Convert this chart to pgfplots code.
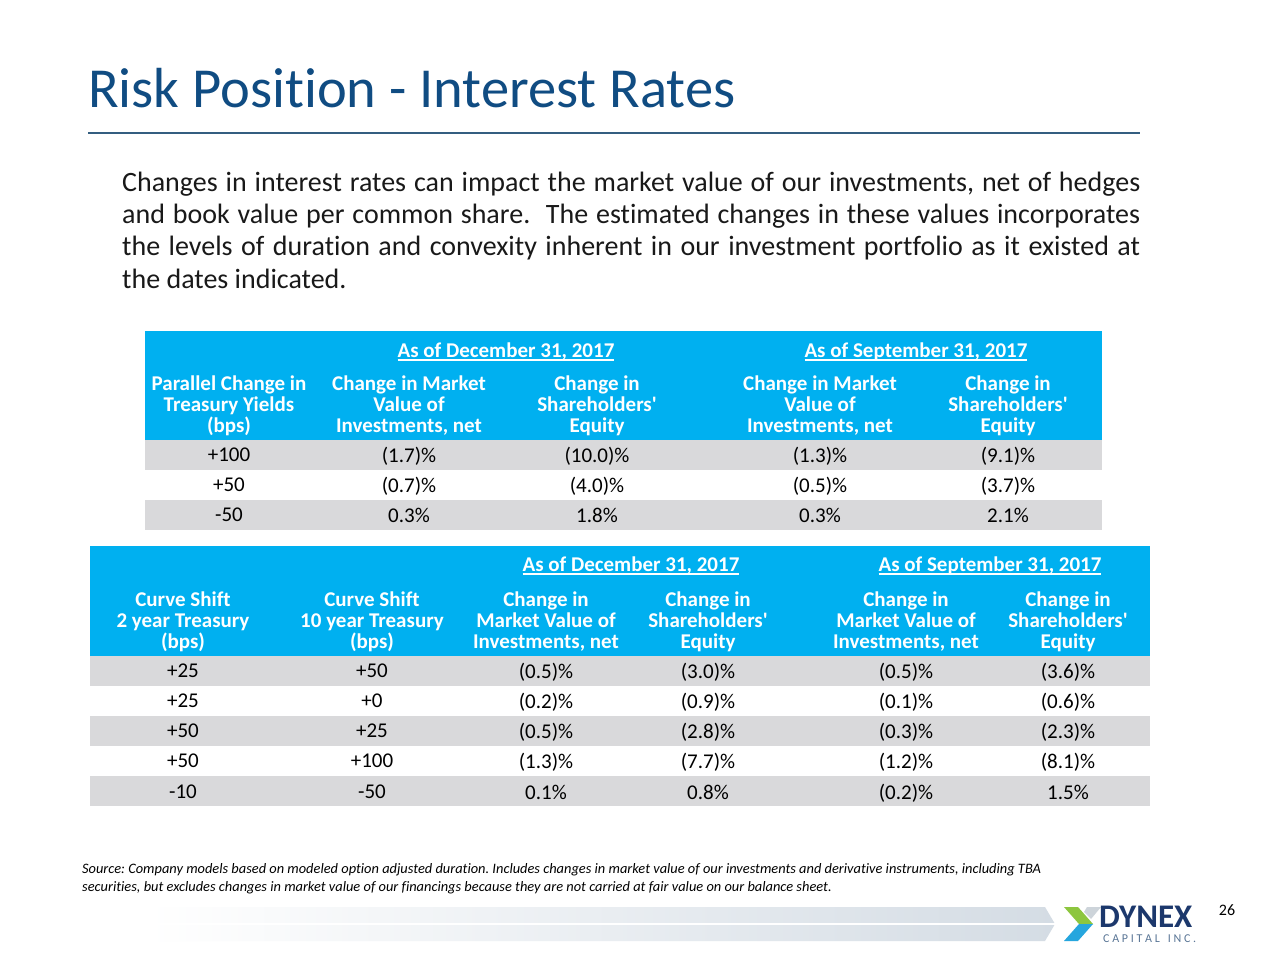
\documentclass[border=0pt]{standalone}
\usepackage{pgfplots}
\pgfplotsset{compat=1.18}
\usepackage{fontspec}
\setmainfont[Ligatures={TeX,NoCommon}]{Carlito}
\definecolor{titleblue}{RGB}{16,76,130}
\definecolor{rulecol}{RGB}{52,94,128}
\definecolor{hdr}{RGB}{0,176,240}
\definecolor{rowgrey}{RGB}{217,217,219}
\definecolor{bodytext}{RGB}{25,25,25}
\definecolor{barcol}{RGB}{212,220,228}
\definecolor{logonavy}{RGB}{28,56,108}
\definecolor{logogrey}{RGB}{90,118,150}
\definecolor{logogreen}{RGB}{141,198,63}
\definecolor{logoblue}{RGB}{38,166,222}
\definecolor{logolight}{RGB}{205,212,218}
\newcommand\ul[1]{\setbox0\hbox{#1}\rlap{\rule[-3.5pt]{\wd0}{1.6pt}}\box0}
\newcommand\tabfont{\fontsize{21}{21}\selectfont}
\newcommand\hdrfont{\fontsize{21}{21}\selectfont\bfseries}
\newcommand\rect[5]{\addplot[fill=#5,draw=none,forget plot] coordinates {(#1,#2)(#3,#2)(#3,#4)(#1,#4)} -- cycle;}
\newcommand\cell[3]{\node[anchor=base,inner sep=0,font=\tabfont,text=black] at (axis cs:#1,#2) {#3};}
\newcommand\hcell[3]{\node[anchor=base,inner sep=0,font=\hdrfont,text=white] at (axis cs:#1,#2) {#3};}
\newcommand\sq{\textquotesingle}
\begin{document}
\frenchspacing
\begin{tikzpicture}
\begin{axis}[width=1280pt,height=960pt,scale only axis,xmin=0,xmax=1280,ymin=0,ymax=960,
  y dir=reverse,hide axis,clip=false]
\rect{0}{0}{1280}{960}{white}
% Title
\node[anchor=base west,inner sep=0,text=titleblue,font={\fontsize{56.5}{56}\selectfont}] at (axis cs:88,108) {Risk Position - Interest Rates};
\addplot[draw=rulecol,line width=2pt,forget plot] coordinates {(88,133)(1140,133)};
% Body text
\node[anchor=base west,inner sep=0,text=bodytext,font={\fontsize{28}{32}\selectfont}] at (axis cs:122,192) {\makebox[1018pt][s]{Changes in interest rates can impact the market value of our investments, net of hedges}};
\node[anchor=base west,inner sep=0,text=bodytext,font={\fontsize{28}{32}\selectfont}] at (axis cs:122,224) {\makebox[1018pt][s]{and book value per common share.\ \ The estimated changes in these values incorporates}};
\node[anchor=base west,inner sep=0,text=bodytext,font={\fontsize{28}{32}\selectfont}] at (axis cs:122,256) {\makebox[1018pt][s]{the levels of duration and convexity inherent in our investment portfolio as it existed at}};
\node[anchor=base west,inner sep=0,text=bodytext,font={\fontsize{28}{32}\selectfont}] at (axis cs:122,288) {the dates indicated.};
% ---------------- Table 1 ----------------
\rect{145}{331}{1102}{440}{hdr}
\rect{145}{440}{1102}{470}{rowgrey}
\rect{145}{500}{1102}{530}{rowgrey}
\hcell{506}{357}{\ul{As of December 31, 2017}}
\hcell{916}{357}{\ul{As of September 31, 2017}}
\hcell{229}{390}{Parallel Change in}
\hcell{229}{411}{Treasury Yields}
\hcell{229}{432}{(bps)}
\hcell{409}{390}{Change in Market}
\hcell{409}{411}{Value of}
\hcell{409}{432}{Investments, net}
\hcell{597}{390}{Change in}
\hcell{597}{411}{Shareholders\sq}
\hcell{597}{432}{Equity}
\hcell{820}{390}{Change in Market}
\hcell{820}{411}{Value of}
\hcell{820}{432}{Investments, net}
\hcell{1008}{390}{Change in}
\hcell{1008}{411}{Shareholders\sq}
\hcell{1008}{432}{Equity}
\cell{229}{461}{+100}\cell{409}{462}{(1.7)\%}\cell{597}{462}{(10.0)\%}\cell{820}{462}{(1.3)\%}\cell{1008}{462}{(9.1)\%}
\cell{229}{491}{+50}\cell{409}{492}{(0.7)\%}\cell{597}{492}{(4.0)\%}\cell{820}{492}{(0.5)\%}\cell{1008}{492}{(3.7)\%}
\cell{229}{521}{-50}\cell{409}{522}{0.3\%}\cell{597}{522}{1.8\%}\cell{820}{522}{0.3\%}\cell{1008}{522}{2.1\%}
% ---------------- Table 2 ----------------
\rect{90}{546}{1150}{656}{hdr}
\rect{90}{656}{1150}{686}{rowgrey}
\rect{90}{716}{1150}{746}{rowgrey}
\rect{90}{776}{1150}{806}{rowgrey}
\hcell{631}{571}{\ul{As of December 31, 2017}}
\hcell{990}{571}{\ul{As of September 31, 2017}}
\hcell{183}{606}{Curve Shift}
\hcell{183}{627}{2 year Treasury}
\hcell{183}{648}{(bps)}
\hcell{372}{606}{Curve Shift}
\hcell{372}{627}{10 year Treasury}
\hcell{372}{648}{(bps)}
\hcell{546}{606}{Change in}
\hcell{546}{627}{Market Value of}
\hcell{546}{648}{Investments, net}
\hcell{708}{606}{Change in}
\hcell{708}{627}{Shareholders\sq}
\hcell{708}{648}{Equity}
\hcell{906}{606}{Change in}
\hcell{906}{627}{Market Value of}
\hcell{906}{648}{Investments, net}
\hcell{1068}{606}{Change in}
\hcell{1068}{627}{Shareholders\sq}
\hcell{1068}{648}{Equity}
\cell{183}{677}{+25}\cell{372}{677}{+50}\cell{546}{678}{(0.5)\%}\cell{708}{678}{(3.0)\%}\cell{906}{678}{(0.5)\%}\cell{1068}{678}{(3.6)\%}
\cell{183}{707}{+25}\cell{372}{707}{+0}\cell{546}{708}{(0.2)\%}\cell{708}{708}{(0.9)\%}\cell{906}{708}{(0.1)\%}\cell{1068}{708}{(0.6)\%}
\cell{183}{737}{+50}\cell{372}{737}{+25}\cell{546}{738}{(0.5)\%}\cell{708}{738}{(2.8)\%}\cell{906}{738}{(0.3)\%}\cell{1068}{738}{(2.3)\%}
\cell{183}{767}{+50}\cell{372}{767}{+100}\cell{546}{768}{(1.3)\%}\cell{708}{768}{(7.7)\%}\cell{906}{768}{(1.2)\%}\cell{1068}{768}{(8.1)\%}
\cell{183}{798}{-10}\cell{372}{798}{-50}\cell{546}{799}{0.1\%}\cell{708}{799}{0.8\%}\cell{906}{799}{(0.2)\%}\cell{1068}{799}{1.5\%}
% ---------------- Source ----------------
\node[anchor=base west,inner sep=0,text=black,font={\fontsize{14.4}{14}\selectfont\itshape}] at (axis cs:82,873) {Source: Company models based on modeled option adjusted duration. Includes changes in market value of our investments and derivative instruments, including TBA};
\node[anchor=base west,inner sep=0,text=black,font={\fontsize{14.4}{14}\selectfont\itshape}] at (axis cs:82,891) {securities, but excludes changes in market value of our financings because they are not carried at fair value on our balance sheet.};
% ---------------- Footer bar ----------------
\addplot[left color=white,right color=barcol,draw=none,forget plot] coordinates {(147,907)(1045,907)(1055,924)(1045,941)(147,941)} -- cycle;
\addplot[draw=white,line width=1.5pt,forget plot] coordinates {(147,924)(1056,924)};
% Logo
\addplot[fill=logogreen,draw=none,forget plot] coordinates {(1064,907)(1078,907)(1093,924)(1079,924)} -- cycle;
\addplot[fill=logolight,draw=none,forget plot] coordinates {(1087,907)(1101,907)(1091,919)(1084,912)} -- cycle;
\addplot[fill=logoblue,draw=none,forget plot] coordinates {(1079,924)(1093,924)(1078,941)(1064,941)} -- cycle;
\node[anchor=base west,inner sep=0,text=logonavy,font={\fontsize{33}{33}\selectfont\bfseries}] at (axis cs:1099,927) {DYNEX};
\node[anchor=base west,inner sep=0,text=logogrey,font={\fontsize{12}{12}\selectfont}] at (axis cs:1103,942) {\makebox[93pt][s]{C\hfill A\hfill P\hfill I\hfill T\hfill A\hfill L\hfill\ \hfill I\hfill N\hfill C\hfill .}};
\node[anchor=base,inner sep=0,text=black,font={\fontsize{16}{16}\selectfont}] at (axis cs:1227,915) {26};
\end{axis}
\end{tikzpicture}
\end{document}
